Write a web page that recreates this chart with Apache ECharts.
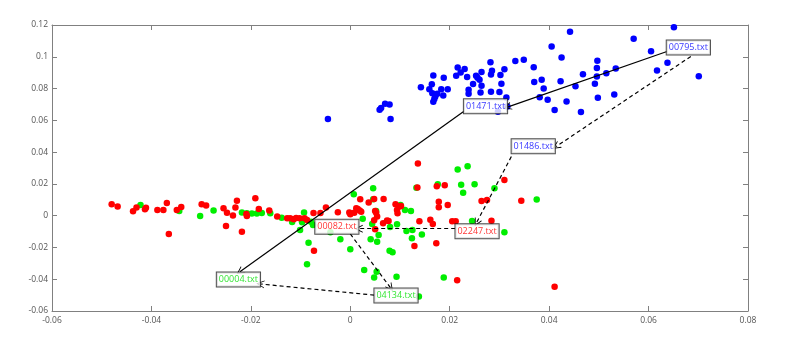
<!DOCTYPE html>
<html>
<head>
<meta charset="utf-8">
<script src="https://cdn.jsdelivr.net/npm/echarts@6/dist/echarts.min.js"></script>
<style>
  html, body { margin: 0; padding: 0; background: #fff; }
  #chart { width: 789px; height: 350px; }
</style>
</head>
<body>
<div id="chart"></div>
<script>
// scatter groups, [x, y]
const bluePoints = [
  [-0.0045, 0.0609], [0.0059, 0.0666], [0.0062, 0.0677], [0.0070, 0.0704], [0.0079, 0.0699], [0.0081, 0.0609],
  [0.0142, 0.0809], [0.0159, 0.0796], [0.0164, 0.0827], [0.0167, 0.0882], [0.0188, 0.0868], [0.0183, 0.0796],
  [0.0196, 0.0796], [0.0165, 0.0771], [0.0171, 0.0750], [0.0167, 0.0717], [0.0169, 0.0735], [0.0175, 0.0767],
  [0.0187, 0.0757], [0.0213, 0.0880], [0.0216, 0.0933], [0.0222, 0.0901], [0.0230, 0.0923], [0.0235, 0.0872],
  [0.0238, 0.0792], [0.0238, 0.0767], [0.0247, 0.0829], [0.0253, 0.0880], [0.0256, 0.0868], [0.0260, 0.0855],
  [0.0264, 0.0904], [0.0264, 0.0817], [0.0262, 0.0775], [0.0282, 0.0965], [0.0283, 0.0888], [0.0285, 0.0912],
  [0.0283, 0.0780], [0.0300, 0.0778], [0.0302, 0.0885], [0.0304, 0.0830], [0.0310, 0.0921], [0.0314, 0.0744],
  [0.0297, 0.0654], [0.0316, 0.0687], [0.0332, 0.0973], [0.0349, 0.0981], [0.0369, 0.0934], [0.0370, 0.0841],
  [0.0385, 0.0855], [0.0389, 0.0800], [0.0381, 0.0745], [0.0397, 0.0729], [0.0405, 0.1065], [0.0425, 0.0995],
  [0.0423, 0.0846], [0.0435, 0.0718], [0.0411, 0.0665], [0.0442, 0.1158], [0.0453, 0.0814], [0.0468, 0.0890],
  [0.0464, 0.0652], [0.0497, 0.0975], [0.0496, 0.0929], [0.0496, 0.0876], [0.0492, 0.0830], [0.0498, 0.0742],
  [0.0515, 0.0897], [0.0534, 0.0926], [0.0531, 0.0762], [0.0570, 0.1113], [0.0605, 0.1035], [0.0617, 0.0914],
  [0.0638, 0.0962], [0.0651, 0.1186], [0.0701, 0.0878]
];

const redPoints = [
  [-0.0480, 0.0072], [-0.0468, 0.0057], [-0.0437, 0.0028], [-0.0430, 0.0052], [-0.0413, 0.0041], [-0.0411, 0.0050],
  [-0.0388, 0.0036], [-0.0376, 0.0036], [-0.0369, 0.0080], [-0.0349, 0.0036], [-0.0340, 0.0054], [-0.0365, -0.0115],
  [-0.0299, 0.0072], [-0.0290, 0.0064], [-0.0255, 0.0047], [-0.0248, 0.0019], [-0.0236, 0.0001], [-0.0231, 0.0052],
  [-0.0228, 0.0094], [-0.0250, -0.0065], [-0.0218, -0.0101], [-0.0209, 0.0011], [-0.0208, -0.0002], [-0.0191, 0.0110],
  [-0.0184, 0.0042], [-0.0163, 0.0032], [-0.0147, -0.0005], [-0.0127, -0.0016], [-0.0121, -0.0016], [-0.0114, -0.0023],
  [-0.0109, -0.0014], [-0.0102, -0.0016], [-0.0092, -0.0016], [-0.0087, -0.0027], [-0.0074, 0.0017], [-0.0060, 0.0017],
  [-0.0049, 0.0052], [-0.0073, -0.0221], [-0.0025, 0.0021], [-0.0002, 0.0020], [0.0000, 0.0009], [0.0015, 0.0042],
  [0.0022, 0.0025], [0.0020, 0.0103], [0.0037, 0.0083], [0.0048, 0.0105], [0.0052, 0.0019], [0.0048, -0.0029],
  [0.0050, -0.0085], [0.0066, -0.0048], [0.0074, -0.0030], [0.0077, -0.0033], [0.0067, 0.0105], [0.0012, 0.0047],
  [0.0019, 0.0032], [0.0008, 0.0019], [0.0050, 0.0030], [0.0054, -0.0006], [0.0091, 0.0072], [0.0094, 0.0036],
  [0.0095, 0.0015], [0.0099, 0.0058], [0.0102, 0.0061], [0.0136, 0.0328], [0.0135, 0.0178], [0.0174, 0.0185],
  [0.0190, 0.0192], [0.0178, 0.0088], [0.0178, 0.0053], [0.0196, 0.0067], [0.0139, -0.0035], [0.0161, -0.0025],
  [0.0166, -0.0052], [0.0205, -0.0035], [0.0212, -0.0035], [0.0284, -0.0032], [0.0264, 0.0093], [0.0275, 0.0099],
  [0.0310, 0.0225], [0.0344, 0.0094], [0.0129, -0.0191], [0.0173, -0.0174], [0.0215, -0.0407], [0.0411, -0.0448]
];

const greenPoints = [
  [-0.0422, 0.0067], [-0.0344, 0.0030], [-0.0302, -0.0002], [-0.0275, 0.0032], [-0.0218, 0.0020], [-0.0208, 0.0015],
  [-0.0198, 0.0013], [-0.0188, 0.0013], [-0.0178, 0.0017], [-0.0161, 0.0015], [-0.0138, -0.0013], [-0.0117, -0.0040],
  [-0.0101, -0.0090], [-0.0093, 0.0020], [-0.0097, -0.0042], [-0.0084, -0.0170], [-0.0087, -0.0306], [-0.0075, -0.0059],
  [-0.0079, -0.0038], [-0.0040, -0.0104], [-0.0020, -0.0149], [0.0000, -0.0212], [0.0007, 0.0135], [0.0025, -0.0019],
  [0.0028, -0.0342], [0.0041, -0.0149], [0.0046, 0.0173], [0.0046, 0.0103], [0.0048, -0.0389], [0.0052, 0.0030],
  [0.0057, -0.0122], [0.0054, -0.0164], [0.0053, -0.0353], [0.0079, -0.0221], [0.0085, -0.0231], [0.0080, -0.0071],
  [0.0094, -0.0054], [0.0093, -0.0384], [0.0044, -0.0052], [0.0101, 0.0067], [0.0110, 0.0036], [0.0122, 0.0030],
  [0.0113, -0.0096], [0.0125, -0.0090], [0.0124, -0.0142], [0.0144, -0.0118], [0.0133, 0.0176], [0.0176, 0.0198],
  [0.0216, 0.0291], [0.0236, 0.0311], [0.0223, 0.0195], [0.0250, 0.0198], [0.0227, 0.0145], [0.0290, 0.0173],
  [0.0375, 0.0102], [0.0245, -0.0033], [0.0310, -0.0104], [0.0188, -0.0389], [0.0138, -0.0508]
];

// text boxes (centre of box)
const boxNames = ["00795.txt", "01471.txt", "01486.txt", "02247.txt", "00082.txt", "00004.txt", "04134.txt"];
const boxCentres = [
  [0.0680, 0.1058], [0.0272, 0.0689], [0.0368, 0.0437], [0.0255, -0.0098],
  [-0.0027, -0.0069], [-0.0225, -0.0402], [0.0092, -0.0503]
];
const boxColors = ["#0000ff", "#0000ff", "#0000ff", "#ff0000", "#ff0000", "#00e000", "#00e000"];

// arrows: start, end, dashed?
const arrowStarts = [
  [0.0637, 0.1033], [0.0228, 0.0655], [0.0685, 0.1002], [0.0324, 0.0372],
  [0.0211, -0.0082], [0.0000, -0.0115], [0.0048, -0.0500]
];
const arrowEnds = [
  [0.0316, 0.0683], [-0.0222, -0.0353], [0.0414, 0.0435], [0.0254, -0.0044],
  [0.0017, -0.0082], [0.0081, -0.0454], [-0.0181, -0.0430]
];
const arrowDashed = [false, false, true, true, true, true, true];

const chart = echarts.init(document.getElementById("chart"));

const axisColor = "#808080";
const labelColor = "#555";
const font = "Open Sans";

// open V arrow head
const arrowHead = "path://M5,0 L10,10 L8.8,10 L5,2.4 L1.2,10 L0,10 Z";

const arrowData = arrowStarts.map((s, i) => ({
  coords: [s, arrowEnds[i]],
  lineStyle: { type: arrowDashed[i] ? [4, 3] : "solid" },
}));

const boxData = boxCentres.map((c, i) => ({
  name: boxNames[i],
  value: c,
  label: { color: boxColors[i] },
}));

function dotSeries(name, data, color) {
  return {
    name: name,
    type: "scatter",
    data: data,
    symbolSize: 6.5,
    itemStyle: { color: color, opacity: 1 },
    z: 2,
    silent: true,
  };
}

chart.setOption({
  animation: false,
  backgroundColor: "#fff",
  grid: {
    left: 52,
    right: 41,
    top: 25,
    bottom: 39,
  },
  xAxis: [
    {
      type: "value",
      min: -0.06,
      max: 0.08,
      interval: 0.02,
      axisLine: { onZero: false, lineStyle: { color: axisColor } },
      axisTick: { inside: true, length: 5, lineStyle: { color: axisColor } },
      axisLabel: { color: labelColor, fontFamily: font, fontSize: 8.5, margin: 5 },
      splitLine: { show: false },
    },
    {
      type: "value",
      position: "top",
      min: -0.06,
      max: 0.08,
      interval: 0.02,
      axisLine: { onZero: false, lineStyle: { color: axisColor } },
      axisTick: { inside: true, length: 5, lineStyle: { color: axisColor } },
      axisLabel: { show: false },
      splitLine: { show: false },
    },
  ],
  yAxis: [
    {
      type: "value",
      min: -0.06,
      max: 0.12,
      interval: 0.02,
      axisLine: { show: true, onZero: false, lineStyle: { color: axisColor } },
      axisTick: { show: true, inside: true, length: 5, lineStyle: { color: axisColor } },
      axisLabel: { color: labelColor, fontFamily: font, fontSize: 8.5, margin: 4 },
      splitLine: { show: false },
    },
    {
      type: "value",
      position: "right",
      min: -0.06,
      max: 0.12,
      interval: 0.02,
      axisLine: { show: true, onZero: false, lineStyle: { color: axisColor } },
      axisTick: { show: true, inside: true, length: 5, lineStyle: { color: axisColor } },
      axisLabel: { show: false },
      splitLine: { show: false },
    },
  ],
  series: [
    dotSeries("blue", bluePoints, "#0000ff"),
    dotSeries("green", greenPoints, "#00ee00"),
    dotSeries("red", redPoints, "#ff0000"),
    {
      type: "lines",
      coordinateSystem: "cartesian2d",
      data: arrowData,
      symbol: ["none", arrowHead],
      symbolSize: [8, 8],
      lineStyle: { color: "#000", width: 1.2, opacity: 1 },
      z: 3,
      silent: true,
    },
    {
      type: "scatter",
      data: boxData,
      symbolSize: 1,
      itemStyle: { color: "rgba(0,0,0,0)" },
      label: {
        show: true,
        position: "inside",
        formatter: (p) => p.name,
        fontFamily: font,
        fontSize: 9,
        lineHeight: 10,
        textBorderWidth: 0,
        textShadowBlur: 0,
        backgroundColor: "#fff",
        borderColor: "#222",
        borderWidth: 1,
        padding: [2, 2, 2, 2],
      },
      z: 4,
      silent: true,
    },
  ],
});
</script>
</body>
</html>
